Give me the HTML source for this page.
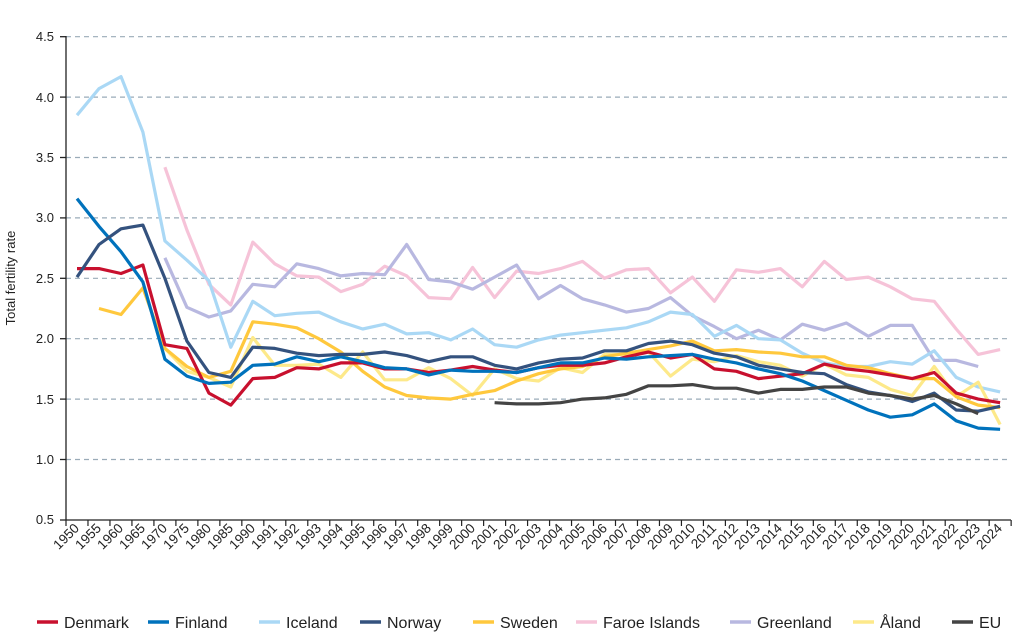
<!DOCTYPE html>
<html><head><meta charset="utf-8"><style>
body{margin:0;background:#fff;width:1024px;height:632px;overflow:hidden}
svg{font-family:"Liberation Sans",sans-serif}
</style></head><body>
<svg id="c" width="1024" height="632" viewBox="0 0 1024 632">
<g stroke="#9aabb8" stroke-width="1.2" stroke-dasharray="5,4">
<line x1="66" x2="1011" y1="36.7" y2="36.7"/><line x1="66" x2="1011" y1="97.1" y2="97.1"/><line x1="66" x2="1011" y1="157.5" y2="157.5"/><line x1="66" x2="1011" y1="217.9" y2="217.9"/><line x1="66" x2="1011" y1="278.3" y2="278.3"/><line x1="66" x2="1011" y1="338.7" y2="338.7"/><line x1="66" x2="1011" y1="399.1" y2="399.1"/><line x1="66" x2="1011" y1="459.5" y2="459.5"/>
</g>
<g stroke="#222" stroke-width="1.3"><line x1="66" y1="36" x2="66" y2="520"/><line x1="66" y1="520" x2="1011" y2="520"/>
<line x1="60" x2="66" y1="36.7" y2="36.7"/><line x1="60" x2="66" y1="97.1" y2="97.1"/><line x1="60" x2="66" y1="157.5" y2="157.5"/><line x1="60" x2="66" y1="217.9" y2="217.9"/><line x1="60" x2="66" y1="278.3" y2="278.3"/><line x1="60" x2="66" y1="338.7" y2="338.7"/><line x1="60" x2="66" y1="399.1" y2="399.1"/><line x1="60" x2="66" y1="459.5" y2="459.5"/><line x1="60" x2="66" y1="520" y2="520"/>
</g>
<g id="ticks" stroke="#222" stroke-width="1.2"></g>
<g font-size="13" fill="#222" text-anchor="end">
<text x="54" y="41">4.5</text><text x="54" y="102">4.0</text><text x="54" y="162">3.5</text><text x="54" y="222">3.0</text><text x="54" y="283">2.5</text><text x="54" y="343">2.0</text><text x="54" y="404">1.5</text><text x="54" y="464">1.0</text><text x="54" y="524">0.5</text>
</g>
<text transform="translate(15,278) rotate(-90)" font-size="13" fill="#222" text-anchor="middle">Total fertility rate</text>
<g id="lines" fill="none" stroke-width="3.2" stroke-linejoin="round"></g>
<g font-size="13.5" fill="#222" text-anchor="end" id="xl">
<text transform="translate(80,529) rotate(-45)">1950</text><text transform="translate(102,529) rotate(-45)">1955</text><text transform="translate(124,529) rotate(-45)">1960</text><text transform="translate(146,529) rotate(-45)">1965</text><text transform="translate(168,529) rotate(-45)">1970</text><text transform="translate(190,529) rotate(-45)">1975</text><text transform="translate(212,529) rotate(-45)">1980</text><text transform="translate(234,529) rotate(-45)">1985</text><text transform="translate(256,529) rotate(-45)">1990</text><text transform="translate(278,529) rotate(-45)">1991</text><text transform="translate(300,529) rotate(-45)">1992</text><text transform="translate(322,529) rotate(-45)">1993</text><text transform="translate(344,529) rotate(-45)">1994</text><text transform="translate(366,529) rotate(-45)">1995</text><text transform="translate(388,529) rotate(-45)">1996</text><text transform="translate(410,529) rotate(-45)">1997</text><text transform="translate(432,529) rotate(-45)">1998</text><text transform="translate(454,529) rotate(-45)">1999</text><text transform="translate(476,529) rotate(-45)">2000</text><text transform="translate(498,529) rotate(-45)">2001</text><text transform="translate(520,529) rotate(-45)">2002</text><text transform="translate(542,529) rotate(-45)">2003</text><text transform="translate(564,529) rotate(-45)">2004</text><text transform="translate(586,529) rotate(-45)">2005</text><text transform="translate(608,529) rotate(-45)">2006</text><text transform="translate(630,529) rotate(-45)">2007</text><text transform="translate(652,529) rotate(-45)">2008</text><text transform="translate(674,529) rotate(-45)">2009</text><text transform="translate(696,529) rotate(-45)">2010</text><text transform="translate(717,529) rotate(-45)">2011</text><text transform="translate(739,529) rotate(-45)">2012</text><text transform="translate(761,529) rotate(-45)">2013</text><text transform="translate(783,529) rotate(-45)">2014</text><text transform="translate(805,529) rotate(-45)">2015</text><text transform="translate(827,529) rotate(-45)">2016</text><text transform="translate(849,529) rotate(-45)">2017</text><text transform="translate(871,529) rotate(-45)">2018</text><text transform="translate(893,529) rotate(-45)">2019</text><text transform="translate(915,529) rotate(-45)">2020</text><text transform="translate(937,529) rotate(-45)">2021</text><text transform="translate(959,529) rotate(-45)">2022</text><text transform="translate(981,529) rotate(-45)">2023</text><text transform="translate(1003,529) rotate(-45)">2024</text>
</g>
<g font-size="16" fill="#222" stroke-width="3.5">
<line x1="37" x2="58" y1="622" y2="622" stroke="#c8102e"/><text x="64" y="628">Denmark</text>
<line x1="148" x2="169" y1="622" y2="622" stroke="#0072bc"/><text x="175" y="628">Finland</text>
<line x1="259" x2="280" y1="622" y2="622" stroke="#aad8f5"/><text x="286" y="628">Iceland</text>
<line x1="360" x2="381" y1="622" y2="622" stroke="#34527e"/><text x="387" y="628">Norway</text>
<line x1="473" x2="494" y1="622" y2="622" stroke="#ffc83d"/><text x="500" y="628">Sweden</text>
<line x1="576" x2="597" y1="622" y2="622" stroke="#f6c3d8"/><text x="603" y="628">Faroe Islands</text>
<line x1="730" x2="751" y1="622" y2="622" stroke="#b8b8e0"/><text x="757" y="628">Greenland</text>
<line x1="853" x2="874" y1="622" y2="622" stroke="#fde98a"/><text x="880" y="628">Åland</text>
<line x1="952" x2="973" y1="622" y2="622" stroke="#444"/><text x="979" y="628">EU</text>
</g>
</svg>
<script>
var N=null;
var S=[
["#f6c3d8",[N,N,N,N,3.42,2.90,2.45,2.28,2.80,2.62,2.52,2.51,2.39,2.45,2.60,2.52,2.34,2.33,2.59,2.34,2.56,2.54,2.58,2.64,2.50,2.57,2.58,2.38,2.51,2.31,2.57,2.55,2.58,2.43,2.64,2.49,2.51,2.43,2.33,2.31,2.08,1.87,1.91]],
["#b8b8e0",[N,N,N,N,2.67,2.26,2.18,2.23,2.45,2.43,2.62,2.58,2.52,2.54,2.53,2.78,2.49,2.47,2.41,2.51,2.61,2.33,2.44,2.33,2.28,2.22,2.25,2.34,2.19,2.10,2.00,2.07,1.99,2.12,2.07,2.13,2.02,2.11,2.11,1.82,1.82,1.77,N]],
["#aad8f5",[3.85,4.07,4.17,3.71,2.81,2.65,2.48,1.93,2.31,2.19,2.21,2.22,2.14,2.08,2.12,2.04,2.05,1.99,2.08,1.95,1.93,1.99,2.03,2.05,2.07,2.09,2.14,2.22,2.20,2.02,2.11,2.00,1.99,1.88,1.80,1.77,1.77,1.81,1.79,1.90,1.68,1.60,1.56]],
["#fde98a",[N,N,N,N,1.92,1.73,1.68,1.60,2.01,1.78,1.78,1.79,1.68,1.89,1.66,1.66,1.76,1.67,1.53,1.75,1.67,1.65,1.76,1.72,1.87,1.87,1.89,1.69,1.83,1.81,1.86,1.81,1.78,1.69,1.79,1.70,1.68,1.58,1.53,1.77,1.52,1.64,1.29]],
["#ffc83d",[N,2.25,2.20,2.42,1.92,1.77,1.68,1.73,2.14,2.12,2.09,2.00,1.89,1.73,1.60,1.53,1.51,1.50,1.54,1.57,1.65,1.71,1.75,1.77,1.85,1.88,1.91,1.94,1.98,1.90,1.91,1.89,1.88,1.85,1.85,1.78,1.76,1.71,1.67,1.67,1.52,1.45,1.43]],
["#c8102e",[2.58,2.58,2.54,2.61,1.95,1.92,1.55,1.45,1.67,1.68,1.76,1.75,1.80,1.80,1.75,1.75,1.72,1.74,1.77,1.74,1.72,1.76,1.78,1.78,1.80,1.85,1.89,1.84,1.87,1.75,1.73,1.67,1.69,1.71,1.79,1.75,1.73,1.70,1.67,1.72,1.55,1.50,1.47]],
["#0072bc",[3.16,2.93,2.72,2.47,1.83,1.69,1.63,1.64,1.78,1.79,1.85,1.81,1.85,1.81,1.76,1.75,1.70,1.74,1.73,1.73,1.72,1.76,1.80,1.80,1.84,1.83,1.85,1.86,1.87,1.83,1.80,1.75,1.71,1.65,1.57,1.49,1.41,1.35,1.37,1.46,1.32,1.26,1.25]],
["#34527e",[2.51,2.78,2.91,2.94,2.50,1.98,1.72,1.68,1.93,1.92,1.88,1.86,1.87,1.87,1.89,1.86,1.81,1.85,1.85,1.78,1.75,1.80,1.83,1.84,1.90,1.90,1.96,1.98,1.95,1.88,1.85,1.78,1.75,1.72,1.71,1.62,1.56,1.53,1.48,1.55,1.41,1.40,1.44]],
["#444",[N,N,N,N,N,N,N,N,N,N,N,N,N,N,N,N,N,N,N,1.47,1.46,1.46,1.47,1.50,1.51,1.54,1.61,1.61,1.62,1.59,1.59,1.55,1.58,1.58,1.60,1.60,1.55,1.53,1.50,1.53,1.46,1.38,N]]
];
var ns="http://www.w3.org/2000/svg",g=document.getElementById("lines"),t=document.getElementById("ticks");
function X(k){return 66+21.98*(k+0.5)}function Y(v){return 36.7+(4.5-v)*120.8}
for(var k=0;k<=43;k++){var l=document.createElementNS(ns,"line");var x=66+21.98*k;l.setAttribute("x1",x);l.setAttribute("x2",x);l.setAttribute("y1",520);l.setAttribute("y2",526);t.appendChild(l);}
S.forEach(function(s){var p=[];s[1].forEach(function(v,k){if(v!=null)p.push(X(k).toFixed(1)+","+Y(v).toFixed(1));});var e=document.createElementNS(ns,"polyline");e.setAttribute("points",p.join(" "));e.setAttribute("stroke",s[0]);g.appendChild(e);});
</script>
</body></html>
